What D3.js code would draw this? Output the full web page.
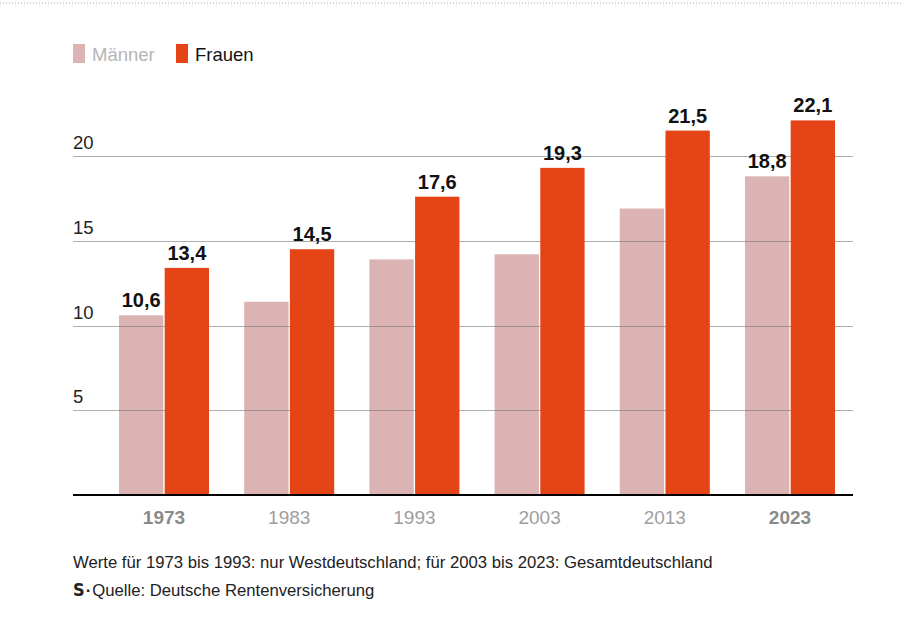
<!DOCTYPE html>
<html>
<head>
<meta charset="utf-8">
<script src="https://cdn.jsdelivr.net/npm/d3@7"></script>
<style>
  body { margin: 0; background: #fff; }
  svg { font-family: "Liberation Sans", Arial, sans-serif; display: block; }
</style>
</head>
<body>
<div id="chart"></div>
<script>
const years = ["1973", "1983", "1993", "2003", "2013", "2023"];
const maenner = [10.6, 11.4, 13.9, 14.2, 16.9, 18.8];
const frauen = [13.4, 14.5, 17.6, 19.3, 21.5, 22.1];
const labelMaenner = [true, false, false, false, false, true];
const boldYears = ["1973", "2023"];
const yTicks = [5, 10, 15, 20];
const note = "Werte für 1973 bis 1993: nur Westdeutschland; für 2003 bis 2023: Gesamtdeutschland";
const source = "Quelle: Deutsche Rentenversicherung";

const colM = "#dbb3b3", colF = "#e54416";
const W = 902, H = 633;
const fmt = v => String(v).replace(".", ",");

const svg = d3.select("#chart").append("svg")
  .attr("width", W)
  .attr("height", H);

// dotted line at the very top
svg.append("line")
  .attr("x1", 0).attr("x2", W)
  .attr("y1", 3).attr("y2", 3)
  .attr("stroke", "#aaa")
  .attr("stroke-dasharray", "1,2");

// legend
const legend = [["Männer", colM, "#b5b5b5", 73], ["Frauen", colF, "#111", 176]];
legend.forEach(([name, c, tc, lx]) => {
  svg.append("rect").attr("x", lx).attr("y", 44).attr("width", 12).attr("height", 19).attr("fill", c);
  svg.append("text").attr("x", lx + 19).attr("y", 61)
    .attr("font-size", 18.5).attr("fill", tc).text(name);
});

const data = years.map((y, i) => ({ year: y, m: maenner[i], f: frauen[i], showM: labelMaenner[i] }));

const x = d3.scaleBand().domain(years).range([101.4, 852.6]).paddingInner(0.281).paddingOuter(0.1406);
const x1 = d3.scaleBand().domain(["m", "f"]).range([0, x.bandwidth()]).paddingInner(0.03);
const y = d3.scaleLinear().domain([0, 20]).range([495, 156]);

// pink bars first
svg.append("g").selectAll("rect")
  .data(data)
  .enter().append("rect")
  .attr("x", d => x(d.year) + x1("m"))
  .attr("width", x1.bandwidth())
  .attr("y", d => y(d.m))
  .attr("height", d => y(0) - y(d.m))
  .attr("fill", colM);

// gridlines sit above the pink bars, under the red ones
const grid = svg.append("g");
grid.selectAll("line")
  .data(yTicks)
  .enter().append("line")
  .attr("x1", 73).attr("x2", 853)
  .attr("y1", d => Math.round(y(d)) + 0.5)
  .attr("y2", d => Math.round(y(d)) + 0.5)
  .attr("stroke", "#777")
  .attr("stroke-opacity", 0.6);
grid.selectAll("text")
  .data(yTicks)
  .enter().append("text")
  .attr("x", 73)
  .attr("y", d => y(d) - 7)
  .attr("font-size", 18.5)
  .attr("fill", "#222")
  .text(d => d);

svg.append("g").selectAll("rect")
  .data(data)
  .enter().append("rect")
  .attr("x", d => x(d.year) + x1("f"))
  .attr("width", x1.bandwidth())
  .attr("y", d => y(d.f))
  .attr("height", d => y(0) - y(d.f))
  .attr("fill", colF);

// value labels
const labels = svg.append("g")
  .attr("font-size", 20)
  .attr("font-weight", "bold")
  .attr("fill", "#111")
  .attr("text-anchor", "middle");
labels.selectAll(".lf")
  .data(data)
  .enter().append("text")
  .attr("class", "lf")
  .attr("x", d => x(d.year) + x1("f") + x1.bandwidth() / 2)
  .attr("y", d => y(d.f) - 8)
  .text(d => fmt(d.f));
labels.selectAll(".lm")
  .data(data.filter(d => d.showM))
  .enter().append("text")
  .attr("class", "lm")
  .attr("x", d => x(d.year) + x1("m") + x1.bandwidth() / 2)
  .attr("y", d => y(d.m) - 8)
  .text(d => fmt(d.m));

// baseline
svg.append("line")
  .attr("x1", 73).attr("x2", 853)
  .attr("y1", y(0)).attr("y2", y(0))
  .attr("stroke", "#000")
  .attr("stroke-width", 2);

// year labels
svg.append("g").selectAll("text")
  .data(years)
  .enter().append("text")
  .attr("x", d => x(d) + x.bandwidth() / 2)
  .attr("y", 524)
  .attr("text-anchor", "middle")
  .attr("font-size", 19)
  .attr("font-weight", d => boldYears.includes(d) ? "bold" : "normal")
  .attr("fill", d => boldYears.includes(d) ? "#8a8a8a" : "#9e9e9e")
  .text(d => d);

// footnote and source
svg.append("text")
  .attr("x", 73).attr("y", 568)
  .attr("font-size", 16.7)
  .attr("fill", "#222")
  .text(note);

const src = svg.append("text")
  .attr("x", 73).attr("y", 596)
  .attr("font-size", 16.7)
  .attr("fill", "#222");
src.append("tspan")
  .attr("font-weight", "900")
  .attr("font-size", 18)
  .attr("font-family", "'DejaVu Sans Condensed', sans-serif")
  .text("S");
src.append("tspan").attr("dx", 1).attr("font-weight", "bold").text("·");
src.append("tspan").attr("dx", 1).text(source);
</script>
</body>
</html>
